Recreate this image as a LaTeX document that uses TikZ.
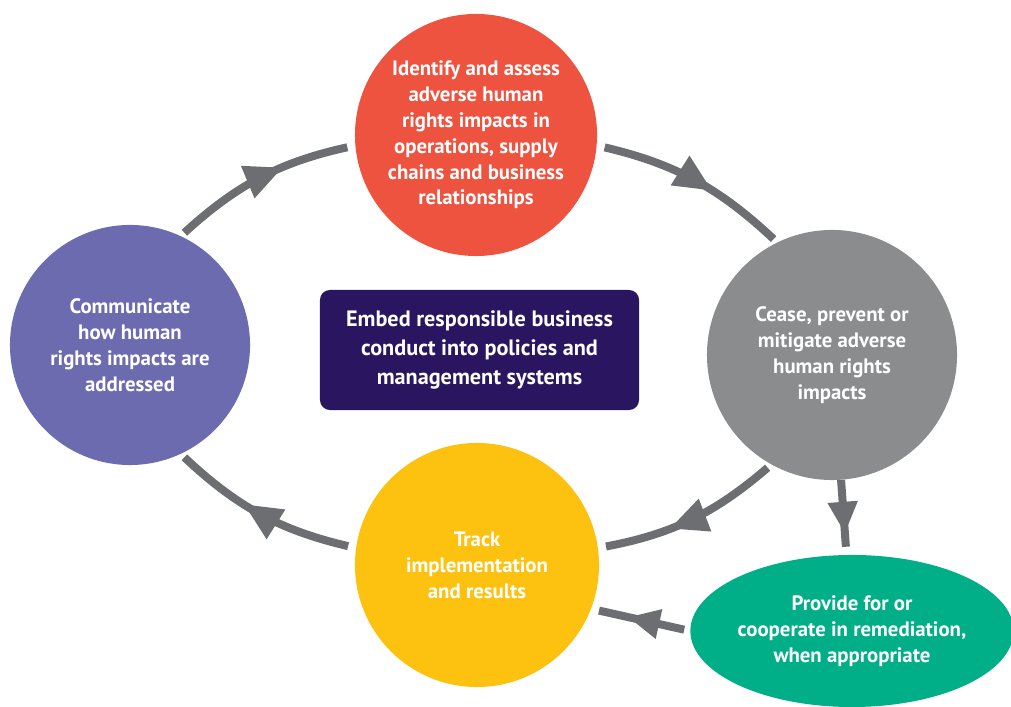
\documentclass[tikz,border=0pt]{standalone}
\usepackage{fontspec}
\setmainfont{PT Sans}
\usetikzlibrary{arrows.meta,decorations.markings,shapes.geometric}

\definecolor{stepred}{RGB}{238,83,64}
\definecolor{stepgray}{RGB}{138,140,142}
\definecolor{steppurple}{RGB}{108,107,176}
\definecolor{stepyellow}{RGB}{253,194,15}
\definecolor{stepgreen}{RGB}{0,174,135}
\definecolor{embedblue}{RGB}{42,21,96}
\definecolor{arrowgray}{RGB}{109,110,113}

\tikzset{
  stage/.style={circle, minimum size=6.05cm, inner sep=0pt, text=white,
    font=\bfseries\fontsize{14.8}{18.4}\selectfont, align=center},
  flow/.style={line width=0.2cm, color=arrowgray},
  midarrow/.style={decoration={markings,
      mark=at position #1 with {\arrow{Triangle[length=0.95cm,width=0.82cm]}}},
    postaction={decorate}},
  smallarrow/.style={decoration={markings,
      mark=at position #1 with {\arrow{Triangle[length=0.8cm,width=0.7cm]}}},
    postaction={decorate}},
}

\begin{document}
\begin{tikzpicture}[x=0.025cm,y=0.025cm]
\useasboundingbox (0,0) rectangle (1011,707);
% the five steps
\node[stage, fill=stepred] (identify) at (476,572)
  {Identify and assess\\adverse human\\rights impacts in\\operations, supply\\chains and business\\relationships};
\node[stage, fill=stepgray, minimum size=6.25cm] (cease) at (832,352)
  {Cease, prevent or\\mitigate adverse\\human rights\\impacts};
\node[stage, fill=stepyellow, minimum size=6.1cm] (track) at (477,142)
  {Track\\implementation\\and results};
\node[stage, fill=steppurple, minimum size=6cm] (communicate) at (130,362)
  {Communicate\\how human\\rights impacts are\\addressed};
\node[stage, ellipse, fill=stepgreen, minimum width=8cm, minimum height=3.8cm] (remedy) at (852,76)
  {Provide for or\\cooperate in remediation,\\when appropriate};
% centre box
\node[fill=embedblue, rounded corners=0.25cm, minimum width=7.975cm, minimum height=3cm,
  text=white, font=\bfseries\fontsize{15.8}{20.6}\selectfont, align=center] (embed) at (479.5,357)
  {Embed responsible business\\conduct into policies and\\management systems};
% the cycle
\draw[flow, midarrow=0.62, shorten <=0.12cm, shorten >=0.2cm] (communicate.65) to[bend left=15] (identify.185);
\draw[flow, midarrow=0.6, shorten <=0.2cm, shorten >=0.12cm] (identify.-5) to[bend left=15] (cease.116);
\draw[flow, midarrow=0.62, shorten <=0.12cm, shorten >=0.2cm] (cease.241) to[bend left=15] (track.8);
\draw[flow, midarrow=0.6, shorten <=0.2cm, shorten >=0.12cm] (track.172) to[bend left=15] (communicate.-65);
% remediation branch
\draw[flow, smallarrow=0.72, shorten >=0.2cm] (cease) -- (remedy);
\draw[flow, smallarrow=0.63, shorten <=0.15cm, shorten >=0.2cm] (remedy.west) -- (track.-21);
\end{tikzpicture}
\end{document}
